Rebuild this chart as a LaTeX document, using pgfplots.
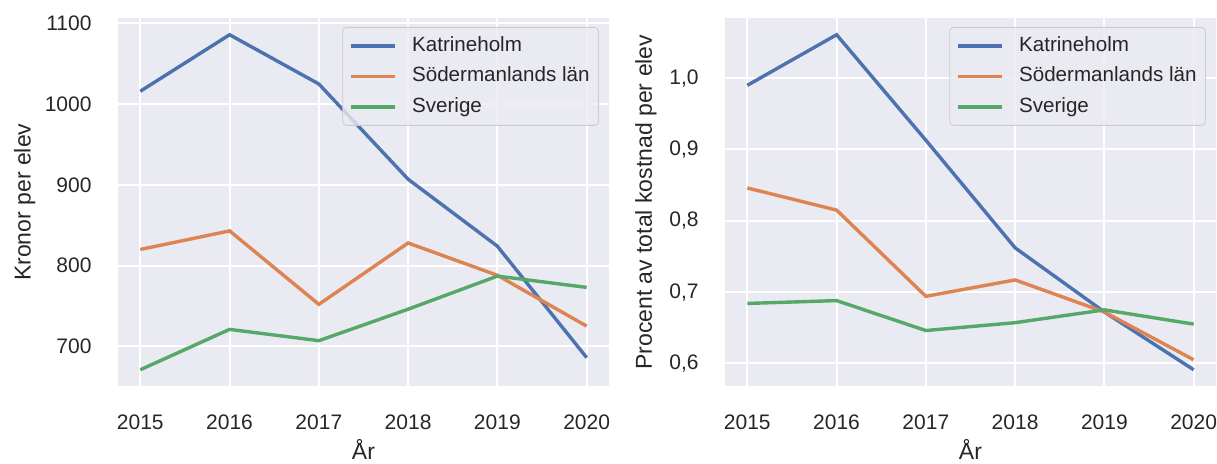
\documentclass[border=0pt]{standalone}
\usepackage{fontspec}
\setmainfont{Liberation Sans}
\usepackage{pgfplots}
\pgfplotsset{compat=1.18}
\definecolor{sbbg}{HTML}{EAEAF2}
\definecolor{sbblue}{HTML}{4C72B0}
\definecolor{sborange}{HTML}{DD8452}
\definecolor{sbgreen}{HTML}{55A868}
\definecolor{sbtext}{HTML}{262626}
\pgfplotsset{
  sbstyle/.style={
    scale only axis, width=245.5pt, height=184.25pt, anchor=south west,
    axis background/.style={fill=sbbg},
    axis line style={draw=none},
    grid=major, major grid style={white, line width=1pt},
    major tick length=0pt,
    xmin=2014.75, xmax=2020.25,
    xtick={2015,...,2020},
    /pgf/number format/assume math mode=true,
    xticklabel style={/pgf/number format/1000 sep={}, font=\fontsize{10.5}{12}\selectfont, text=sbtext, yshift=-10.7pt},
    yticklabel style={font=\fontsize{10.5}{12}\selectfont, text=sbtext, xshift=-9.7pt},
    label style={font=\fontsize{11.5}{14}\selectfont, text=sbtext},
    xlabel={År},
    xlabel style={at={(axis description cs:0.5,-0.17)}, anchor=center},
    legend cell align=left,
    legend image code/.code={\draw[##1, line width=1.7pt] (0pt,0pt) -- (22pt,0pt);},
    legend style={at={(1,1)}, anchor=north east, xshift=-5pt, yshift=-4.5pt,
      fill=sbbg, fill opacity=0.8, text opacity=1, draw=black!20, rounded corners=2pt,
      font=\fontsize{10.3}{12}\selectfont, text=sbtext, inner sep=3.5pt,
      row sep=3.75pt, column sep=6.5pt,
      nodes={inner sep=1pt, text height=7.5pt, text depth=2pt, anchor=west}},
  }
}
\begin{document}
\begin{tikzpicture}
\useasboundingbox (0,0) rectangle (608.5pt,232pt);
\begin{axis}[sbstyle, at={(59pt,38.75pt)},
  ymin=650.25, ymax=1106.75, ytick={700,800,900,1000,1100},
  yticklabel style={/pgf/number format/1000 sep={}},
  ylabel={Kronor per elev},
  ylabel style={at={(axis description cs:-0.19,0.5)}, anchor=center}]
\addplot[sbblue, line width=1.7pt] coordinates {(2015,1016)(2016,1086)(2017,1025)(2018,907)(2019,824)(2020,686)};
\addlegendentry{Katrineholm}
\addplot[sborange, line width=1.7pt] coordinates {(2015,820)(2016,843)(2017,752)(2018,828)(2019,788)(2020,725)};
\addlegendentry{Södermanlands län}
\addplot[sbgreen, line width=1.7pt] coordinates {(2015,671)(2016,721)(2017,707)(2018,746)(2019,787)(2020,773)};
\addlegendentry{Sverige}
\end{axis}
\begin{axis}[sbstyle, at={(362.5pt,38.75pt)},
  ymin=0.5675, ymax=1.0845, ytick={0.6,0.7,0.8,0.9,1.0},
  yticklabel style={/pgf/number format/.cd, use comma, fixed, fixed zerofill, precision=1},
  ylabel={Procent av total kostnad per elev},
  ylabel style={at={(axis description cs:-0.161,0.5)}, anchor=center}]
\addplot[sbblue, line width=1.7pt] coordinates {(2015,0.990)(2016,1.061)(2017,0.913)(2018,0.762)(2019,0.672)(2020,0.591)};
\addlegendentry{Katrineholm}
\addplot[sborange, line width=1.7pt] coordinates {(2015,0.846)(2016,0.815)(2017,0.694)(2018,0.717)(2019,0.672)(2020,0.605)};
\addlegendentry{Södermanlands län}
\addplot[sbgreen, line width=1.7pt] coordinates {(2015,0.684)(2016,0.688)(2017,0.646)(2018,0.657)(2019,0.675)(2020,0.655)};
\addlegendentry{Sverige}
\end{axis}
\end{tikzpicture}
\end{document}
